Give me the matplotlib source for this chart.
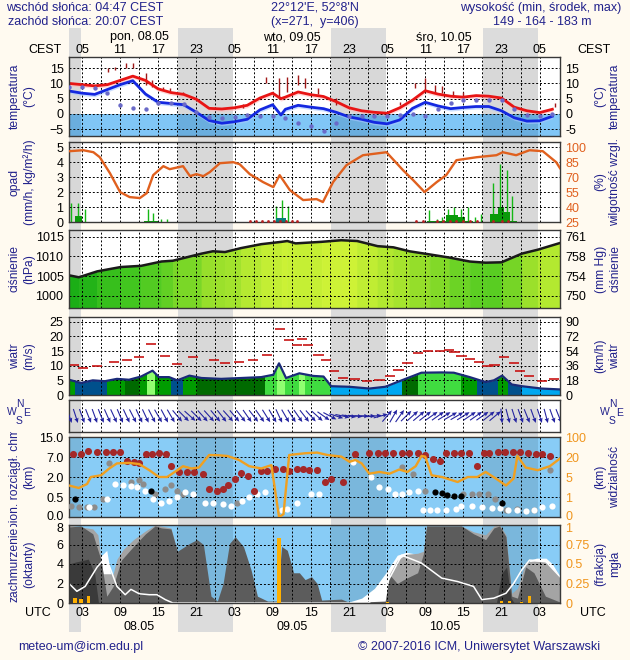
import matplotlib
matplotlib.use("Agg")
import matplotlib.pyplot as plt
import numpy as np
from matplotlib.colors import LinearSegmentedColormap
from matplotlib.patches import Rectangle
from matplotlib.transforms import Bbox, ScaledTranslation

plt.rcParams["font.family"] = ["Liberation Sans", "DejaVu Sans"]

W, H = 630, 660
X0, X1 = 69, 560            # plot column, pixels
T0, T1 = 0.96, 78.2         # hours since 08.05 00 UTC
BG = "#fffaf0"
NAVY = "#22228c"
ORANGE_RH = "#e0601e"
ORANGE_VIS = "#f0961e"

# ---- header / axis text -----------------------------------------------------
SUNRISE_UTC, SUNSET_UTC = 2.78, 18.12
HOUR_T = [3, 9, 15, 21, 27, 33, 39, 45, 51, 57, 63, 69, 75]
DAY_T = [12, 36, 60]
DAY_TOP = ["pon, 08.05", "wto, 09.05", "śro, 10.05"]
DAY_BOTTOM = ["08.05", "09.05", "10.05"]

# ---- temperature (°C) --------------------------------------------------------
TEMP_T = [1, 3, 5, 7, 9, 11, 13, 15, 17, 19, 21, 23, 25, 27, 29, 31, 33, 34.3,
          35, 37, 39, 41, 43, 45, 47, 49, 51, 53, 55, 57, 59, 61, 63, 65, 67,
          69, 71, 73, 75, 77]
TEMP_RED = [10.0, 9.6, 9.2, 9.6, 11.0, 12.4, 11.0, 8.2, 7.0, 6.4, 4.8, 1.8,
            1.6, 2.0, 2.8, 5.2, 6.8, 5.0, 5.5, 7.2, 6.3, 5.7, 4.0, 2.0, 1.0,
            0.5, 0.2, 2.0, 4.5, 7.6, 6.5, 5.8, 5.5, 6.0, 5.8, 5.2, 2.2, 1.0,
            0.4, 1.5]
TEMP_BLUE = [7.5, 6.8, 6.4, 8.0, 9.6, 10.9, 6.5, 3.8, 3.4, 3.0, 0.5, -2.2,
             -3.1, -2.6, -1.8, 1.3, 3.0, -0.4, 1.5, 2.8, 2.2, 1.7, 0.5, -1.0,
             -1.8, -2.8, -3.3, -2.0, 1.8, 3.8, 2.6, 1.7, 2.1, 2.4, 2.4, 1.0,
             -1.3, -2.4, -2.3, -0.8]
DEW_T = [1, 3, 5, 7, 9, 11, 13, 15, 17, 19, 21, 23, 25, 27, 29, 31, 33, 35,
         37, 39, 41, 43, 45, 47, 49, 51, 53, 55, 57, 59, 61, 63, 65, 67, 69,
         71, 73, 75, 77]
DEW = [8.7, 8.8, 8.6, 6.8, 3.0, 2.0, 1.5, 3.5, 3.5, 3.2, 0.5, -1.0, -1.5,
       -1.0, -0.5, -0.8, -0.7, -1.3, -3.1, -3.9, -5.7, -3.0, -0.7, -0.7, -0.7,
       -0.6, -0.4, 0.0, -0.8, 1.5, 3.5, 4.5, 4.5, 4.6, 4.4, 1.5, -0.5, -0.7,
       0.0]
SPREAD_T = [7.1, 8.2, 9.9, 11.0, 13.0, 14.0, 15.8, 16.8, 18.9, 28.4, 32.0,
            34.0, 35.2, 37.0, 38.1, 40.2, 43.0, 53.0, 55.4, 56.9, 58.5, 59.6,
            61.4, 63.0, 77.4]
SPREAD_LO = [13.9, 14.5, 15.0, 15.0, 9.5, 8.9, 7.8, 7.5, 6.4, 2.0, 10.0, 5.1,
             7.3, 9.5, 8.4, 6.4, 2.9, 2.9, 8.4, 7.5, 7.0, 7.0, 5.6, 5.6, 2.3]
SPREAD_HI = [15.0, 15.5, 16.8, 16.6, 13.3, 11.1, 8.9, 8.6, 7.3, 3.1, 12.2,
             11.7, 12.2, 12.8, 11.7, 8.4, 5.1, 4.0, 10.0, 11.7, 9.5, 9.2, 7.5,
             7.3, 3.6]
TEMP_TICKS = [-5, 0, 5, 10, 15]

# ---- precipitation (mm/h) and relative humidity (%) -------------------------
PRECIP_T = [1.2, 2.4, 3.5, 13.4, 14.2, 15.5, 16.3, 33.6, 34.5, 35.4, 57.6,
            58.8, 59.7, 60.6, 61.6, 62.7, 63.7, 64.8, 65.8, 67.7, 68.8, 69.8,
            70.7]
PRECIP_MAX = [1.24, 1.24, 0.9, 0.9, 0.6, 0.2, 0.2, 1.1, 1.45, 1.1, 0.8, 0.18,
              0.34, 0.9, 1.0, 0.85, 1.0, 0.34, 0.52, 2.64, 3.9, 3.5, 1.74]
BAR_START = [1.9, 12.8, 33.6, 57.3, 60.3, 62.1, 63.2, 67.2, 68.5, 69.4, 70.4]
BAR_END = [2.95, 15.0, 35.1, 60.3, 62.1, 63.2, 64.5, 68.5, 69.4, 70.4, 71.4]
BAR_MEAN = [0.38, 0.1, 0.27, 0.1, 0.45, 0.34, 0.1, 0.56, 1.0, 0.67, 0.08]
BAR_KIND = [0, 0, 1, 0, 0, 0, 0, 0, 0, 0, 0]     # 1 = mixed precipitation
SLEET_T = [29.4, 30.4, 31.3, 32.2, 33.2, 34.1, 35.1, 36.0, 36.8, 55.6, 56.7,
           58.8, 59.8, 60.9, 61.9, 63.0, 64.0, 65.1, 67.7, 69.0, 70.0]
RH_T = [0.96, 3.2, 4.8, 5.8, 7.4, 9.0, 10.5, 12.1, 13.2, 14.2, 15.8, 16.8,
        18.9, 20.0, 21.0, 22.1, 23.1, 24.7, 26.8, 27.8, 29.4, 31.5, 33.1,
        34.1, 35.7, 37.8, 39.9, 40.9, 42.5, 44.6, 47.2, 50.9, 53.5, 55.1,
        56.9, 58.8, 60.3, 61.9, 65.1, 68.2, 69.2, 71.3, 73.4, 75.5, 77.6, 78.2]
RH = [96, 97, 95, 90, 74, 55, 50, 49, 54, 72, 81, 78, 81, 71, 73, 71, 75, 84,
      85, 83, 73, 65, 60, 72, 57, 47, 48, 45, 65, 82, 92, 95, 77, 67, 55, 65,
      72, 87, 90, 92, 95, 92, 97, 96, 85, 79]
PRECIP_TICKS = [0, 1, 2, 3, 4, 5]
RH_TICKS = [25, 40, 55, 70, 85, 100]

# ---- pressure (hPa) ---------------------------------------------------------
PRES_T = [0.96, 2.5, 5.4, 9.1, 12.3, 15.5, 17.3, 21.8, 23.6, 25.5, 28.0, 31.2,
          34.4, 35.3, 36.6, 40.7, 43.8, 46.3, 49.5, 52.0, 54.5, 57.7, 60.8,
          64.0, 66.5, 69.0, 72.2, 74.7, 78.2]
PRES = [1005.2, 1004.7, 1006.2, 1007.3, 1007.6, 1008.7, 1008.9, 1010.7,
        1011.3, 1011.1, 1012.1, 1013.1, 1013.7, 1013.9, 1013.3, 1013.7,
        1014.1, 1013.9, 1012.6, 1012.3, 1011.3, 1010.5, 1009.7, 1008.7,
        1008.4, 1008.5, 1010.7, 1011.7, 1013.4]
PRES_TICKS = [1000, 1005, 1010, 1015]
HPA_TO_MMHG = 0.750062

# ---- wind (m/s) -------------------------------------------------------------
WIND_T = [0.96, 2.85, 4.7, 6.6, 8.5, 10.4, 12.3, 14.1, 15.1, 16.7, 18.0, 19.9,
          21.8, 24.9, 28.1, 31.2, 33.1, 34.0, 35.1, 37.2, 39.4, 41.0, 42.2,
          45.1, 48.2, 50.7, 53.3, 56.4, 59.6, 61.5, 64.0, 66.5, 67.8, 69.1,
          70.6, 72.2, 75.3, 78.2]
WIND = [5.2, 4.1, 5.0, 4.7, 5.5, 5.2, 6.3, 8.3, 6.1, 6.1, 5.0, 6.6, 5.8, 5.5,
        5.8, 6.1, 6.9, 10.8, 5.8, 7.4, 6.5, 6.3, 3.0, 2.8, 2.2, 2.8, 5.0, 7.6,
        7.7, 7.6, 6.1, 4.4, 5.0, 6.6, 3.6, 3.0, 2.2, 1.9]
WIND_BAND_EDGES = [0.96, 1.9, 6.9, 9.8, 12.0, 13.2, 14.5, 17.0, 18.9, 21.1,
                   31.8, 33.7, 35.0, 37.2, 38.1, 42.2, 53.3, 55.8, 62.7, 65.2,
                   68.4, 69.96, 72.2, 78.2]
WIND_BAND_CLASS = [2, 0, 2, 1, 2, 4, 2, 0, 2, 1, 3, 4, 3, 4, 3, 5, 1, 3, 2, 0,
                   2, 0, 5]
GUST_T = [1.7, 3.2, 5.4, 8.0, 10.1, 12.0, 13.9, 16.1, 18.0, 20.5, 23.8, 25.5,
          27.7, 29.9, 32.1, 34.1, 35.6, 36.8, 37.6, 38.6, 40.2, 41.4, 42.6,
          44.1, 46.0, 47.9, 49.8, 51.5, 52.8, 54.2, 55.8, 57.4, 59.3, 60.7,
          61.6, 62.7, 64.0, 65.4, 66.8, 67.9, 69.4, 70.9, 71.9, 73.3, 75.4,
          77.3]
GUST = [10.2, 9.1, 9.9, 11.3, 12.1, 13.0, 17.4, 13.2, 10.5, 12.9, 11.8, 10.8,
        11.3, 12.1, 13.8, 22.6, 18.7, 17.1, 19.0, 17.1, 13.8, 11.9, 8.3, 5.8,
        5.3, 4.7, 5.0, 6.4, 8.6, 10.8, 14.3, 15.1, 14.9, 15.3, 14.6, 13.4,
        12.3, 11.2, 9.9, 10.2, 13.0, 10.8, 8.3, 6.6, 4.7, 5.5]
WIND_TICKS = [0, 5, 10, 15, 20, 25]

# wind direction (deg, meteorological "from"), hourly 01..78 UTC
WIND_DIR_T = np.arange(1, 79)
WIND_DIR = [340, 342, 340, 338, 340, 338, 336, 335, 337, 335, 333, 335, 335,
            333, 330, 332, 330, 320, 315, 312, 315, 318, 318, 320, 322, 318,
            320, 322, 325, 322, 325, 328, 330, 335, 330, 328, 325, 322, 318,
            312, 305, 298, 288, 282, 278, 275, 272, 270, 265, 255, 220, 210,
            215, 225, 228, 230, 232, 235, 235, 238, 240, 240, 238, 236, 235,
            235, 232, 230, 355, 345, 342, 340, 338, 340, 342, 345, 340, 338]

# ---- cloud base (km) and visibility (km) ------------------------------------
CB_TICKS = [0.0, 0.5, 2.0, 7.0, 15.0]
VIS_TICKS = [0, 1, 5, 20, 100]
CB_RED_T = [1.6, 2.85, 3.98, 5.37, 6.75, 7.89, 9.02, 10.1, 11.2, 12.0, 13.06,
            14.06, 15.14, 16.2, 17.03, 18.3, 19.55, 20.7, 22.07, 23.0, 24.3,
            25.2, 26.04, 27.1, 28.05, 29.1, 30.07, 31.2, 32.15, 33.4, 34.67,
            35.6, 36.75, 37.8, 38.77, 40.03, 41.2, 42.2, 44.1, 46.0, 48.2,
            49.5, 50.7, 52.0, 53.3, 54.5, 55.8, 56.9, 58.2, 59.25, 60.3, 61.5,
            62.7, 63.85, 65.2, 66.2, 67.1, 68.4, 69.5, 70.8, 71.85, 73.1, 74.4,
            75.4, 76.6]
CB_RED = [8.2, 8.2, 9.5, 9.2, 9.2, 9.2, 9.2, 6.1, 5.8, 5.6, 8.2, 8.2, 8.5,
          8.2, 4.7, 3.3, 3.3, 3.3, 2.85, 1.11, 0.98, 1.11, 1.37, 1.88, 3.0,
          2.15, 0.98, 3.4, 3.4, 3.9, 3.9, 3.4, 3.9, 3.9, 3.7, 3.7, 1.62, 1.88,
          1.62, 8.2, 8.8, 8.8, 8.8, 8.8, 8.8, 8.8, 8.8, 7.8, 6.4, 6.0, 8.8,
          8.8, 8.8, 8.8, 4.7, 8.5, 8.8, 9.2, 9.2, 9.2, 9.2, 8.8, 8.2, 8.2, 7.4]
CB_WHITE_T = [4.1, 6.9, 8.2, 9.5, 10.7, 11.7, 12.9, 14.2, 15.5, 16.7, 18.0,
              19.2, 20.5, 22.4, 23.6, 25.2, 26.5, 28.1, 29.3, 30.6, 31.8, 34.4,
              35.3, 36.9, 39.1, 40.3, 45.7, 48.5, 49.8, 51.1, 52.3, 53.3, 54.5,
              55.8, 56.7, 57.7, 58.9, 60.2, 61.8, 62.7, 64.3, 65.9, 67.5, 68.7,
              70.0, 71.5, 72.8, 74.1, 75.3, 76.9]
CB_WHITE = [0.24, 0.45, 1.49, 1.37, 1.29, 1.24, 0.98, 0.45, 0.36, 0.41, 0.49,
            0.86, 0.73, 0.36, 0.36, 0.32, 0.28, 0.41, 0.49, 0.73, 0.86, 0.17,
            0.19, 0.36, 0.73, 0.73, 5.8, 2.0, 1.24, 1.11, 0.73, 0.73, 0.86,
            0.98, 0.17, 0.17, 0.17, 0.17, 0.19, 0.28, 0.28, 0.25, 0.22, 0.22,
            0.17, 0.17, 0.15, 0.17, 0.24, 0.28]
CB_GRAY_T = [1.3, 2.5, 3.8, 4.9, 6.3, 7.3, 10.7, 12.0, 12.6, 14.5, 16.1, 17.0,
             18.0, 18.9, 27.4, 53.3, 55.1, 57.0, 63.0, 64.3, 65.5, 66.8, 68.0,
             69.7, 71.5, 74.1, 76.6]
CB_GRAY = [0.28, 0.25, 0.25, 0.25, 0.45, 5.4, 1.62, 1.75, 1.49, 0.76, 1.11,
           1.37, 0.95, 0.73, 0.36, 4.5, 2.85, 0.98, 0.71, 0.71, 0.71, 0.71,
           0.45, 0.17, 0.19, 0.17, 3.7]
CB_BLACK_T = [1.9, 13.9, 58.6, 59.6, 60.5, 61.5, 62.7, 69.0]
CB_BLACK = [0.45, 0.98, 0.86, 0.8, 0.68, 0.6, 0.6, 0.36]
VIS_T = [0.96, 2.5, 3.8, 4.4, 6.0, 7.3, 8.5, 10.4, 12.0, 13.6, 15.1, 16.4,
         18.0, 18.9, 20.2, 21.4, 23.0, 24.6, 25.9, 27.7, 29.3, 31.2, 32.8,
         34.0, 34.7, 35.6, 38.1, 40.0, 41.6, 43.8, 45.1, 46.0, 47.0, 48.2,
         49.8, 51.4, 52.9, 54.2, 55.5, 56.4, 57.0, 58.0, 59.6, 62.1, 63.7,
         65.2, 66.5, 68.1, 69.7, 70.9, 71.5, 72.8, 74.7, 76.6, 78.2]
VIS = [3.3, 2.8, 3.6, 5.0, 6.3, 11.4, 15.2, 15.6, 14.7, 10.1, 5.0, 5.0, 10.1,
       13.1, 11.4, 12.1, 28, 26.7, 24, 17.8, 13.1, 11.4, 13.9, 0, 0.14, 28, 35,
       37.6, 28, 21.6, 16.4, 17.8, 15.2, 7.5, 8.8, 7.5, 10.6, 8.8, 13.1, 24,
       21.6, 6.3, 5.0, 4.0, 5.0, 5.0, 8.8, 4.7, 3.3, 4.7, 24, 12.1, 10.1, 13.1,
       18.9]

# ---- cloud cover (octants) and fog (fraction) -------------------------------
CC_WHITE_T = [4.5, 5.5, 6.9, 7.5, 8.0, 44.5, 47.0, 49.0, 50.7, 52.6, 54.0,
              55.8, 56.7, 57.0, 71.6, 72.8, 73.5, 74.5, 76.0, 77.0, 78.2]
CC_WHITE = [0, 4.5, 5.4, 3.0, 0, 0, 0.5, 1.5, 3.0, 4.9, 5.2, 5.0, 5.2, 0, 0,
            3.8, 4.4, 4.6, 4.6, 4.0, 2.7]
CC_LIGHT_T = [0.96, 4.7, 5.5, 6.3, 7.9, 8.5, 9.5, 11.1, 13.0, 14.5, 17.0,
              18.0, 18.1, 50.9, 51.4, 52.6, 54.0, 55.8, 56.7, 57.2, 62.7,
              64.6, 66.5, 67.8, 68.7, 69.7, 70.6, 71.5, 72.8, 74.1, 76.0, 77.0,
              78.2]
CC_LIGHT = [8.0, 7.6, 7.0, 3.0, 3.0, 4.5, 5.5, 6.5, 7.4, 8.0, 7.7, 5.3, 0.0,
            0.0, 3.0, 4.4, 5.0, 5.1, 5.3, 7.9, 7.9, 7.3, 7.0, 7.9, 8.0, 7.0,
            1.0, 1.5, 4.2, 4.3, 4.2, 3.6, 2.7]
CC_MID_T = [0.96, 2.85, 4.7, 6.0, 6.9, 7.9, 9.2, 11.1, 13.0, 14.5, 15.5, 17.0,
            18.0, 19.9, 21.1, 22.1, 23.3, 24.3, 25.2, 26.2, 27.1, 28.4, 29.6,
            30.6, 32.2, 33.7, 34.4, 35.3, 36.3, 37.2, 38.1, 39.1, 40.0, 40.7,
            43.8, 45.1, 50.7, 51.4, 52.6, 53.9, 55.8, 56.7, 57.2, 62.7, 64.6,
            66.5, 67.8, 68.7, 69.7, 70.6, 71.5, 72.8, 74.1, 75.9, 78.2]
CC_MID = [7.8, 7.9, 7.1, 4.4, 0.7, 1.7, 4.4, 5.8, 7.1, 7.9, 7.7, 7.6, 5.3,
          6.1, 6.5, 6.0, 0.7, 0.2, 2.0, 6.1, 6.8, 5.8, 3.4, 0.7, 0.2, 0.2, 5.8,
          5.4, 3.1, 3.1, 2.4, 2.7, 2.0, 0.3, 0.4, 0.05, 0.2, 2.9, 2.0, 2.5,
          3.1, 5.0, 7.9, 7.9, 7.1, 6.5, 7.7, 7.9, 6.8, 0.7, 0.5, 3.7, 3.1, 0.7,
          0.1]
CC_DARK_T = [0.96, 2.0, 4.0, 5.0, 5.6, 68.2, 69.0, 69.8, 70.5, 71.0]
CC_DARK = [4.0, 4.2, 4.5, 3.0, 0.0, 0.0, 3.0, 3.7, 0.5, 0.0]
CC_LINE_T = [0.96, 2.2, 3.5, 5.4, 6.8, 8.5, 9.8, 10.7, 12.0, 13.6, 14.8, 16.1,
             17.3, 48.0, 48.9, 50.7, 53.3, 56.4, 59.6, 62.1, 64.6, 65.9, 67.8,
             69.7, 70.9, 72.2, 73.4, 75.9, 78.2]
CC_LINE = [2.0, 1.2, 1.7, 3.7, 4.7, 1.7, 0.85, 1.4, 0.95, 0.85, 0.85, 0.35,
           0.0, 0.0, 0.35, 1.7, 4.9, 4.1, 2.55, 2.2, 1.7, 0.35, 0.5, 1.0, 2.0,
           3.4, 4.4, 4.3, 2.7]
FOG_T = [1.9, 2.85, 4.0, 34.0, 51.1, 69.0, 70.2, 72.2, 73.4]
FOG = [0.06, 0.05, 0.09, 0.83, 0.01, 0.02, 0.02, 0.01, 0.09]
CC_TICKS = [0, 2, 4, 6, 8]
FOG_TICKS = [0, 0.25, 0.5, 0.75, 1]

WIND_COLORS = ["#00508c", "#006a00", "#009c00", "#40dc40", "#90ff70",
               "#00a8f0"]

NIGHTS = [(T0, SUNRISE_UTC)] + [(SUNSET_UTC + 24 * d, SUNRISE_UTC + 24 * (d + 1))
                                for d in range(3)]

fig = plt.figure(figsize=(W / 100, H / 100), dpi=100, facecolor=BG)


def ftext(x, y, s, **kw):
    kw.setdefault("fontsize", 9)
    kw.setdefault("va", "center")
    return fig.text(x / W, 1 - y / H, s, **kw)


# night bands behind the whole column (header and footer included)
bg = fig.add_axes([X0 / W, 1 - 632 / H, (X1 - X0) / W, (632 - 28) / H])
bg.set_xlim(T0, T1)
bg.axis("off")
for a, b in NIGHTS:
    bg.axvspan(a, b, color="#dcdcdc", lw=0)


def panel(top, bot, face="white", night="#d8d8d8", night_alpha=1.0):
    ax = fig.add_axes([X0 / W, 1 - bot / H, (X1 - X0) / W, (bot - top) / H],
                      facecolor=face)
    ax.set_xlim(T0, T1)
    for a, b in NIGHTS:
        ax.axvspan(a, b, color=night, alpha=night_alpha, lw=0, zorder=0.5)
    ax.set_xticks(np.arange(3, 78, 3))
    ax.tick_params(axis="x", length=0, labelbottom=False)
    ax.tick_params(axis="y", length=0, labelsize=9, pad=4)
    ax.set_axisbelow("line")
    ax.grid(True, color="k", ls=(0, (2, 2)), lw=0.7)
    for s in ax.spines.values():
        s.set_color("#383838")
        s.set_linewidth(1.0)
    return ax


def right_axis(ax, ticks, labels, color="black", ylim=None):
    ax2 = ax.twinx()
    ax2.set_ylim(ylim if ylim is not None else ax.get_ylim())
    ax2.set_yticks(ticks)
    ax2.set_yticklabels(labels)
    ax2.tick_params(axis="y", length=0, labelsize=9, pad=4, labelcolor=color)
    for s in ax2.spines.values():
        s.set_visible(False)
    return ax2


def nudge(ax, index, dy_px, side=1):
    # shift one tick label vertically so neighbouring panels do not collide
    tick = ax.yaxis.get_major_ticks()[index]
    lbl = tick.label1 if side == 1 else tick.label2
    lbl.set_transform(lbl.get_transform()
                      + ScaledTranslation(0, dy_px / 100, fig.dpi_scale_trans))


def side_labels(top, bot, left, right, clip=None):
    yc = (top + bot) / 2
    for x, s in ((22, left), (608, right)):
        if not s:
            continue
        t = ftext(x, yc, s, rotation=90, ha="center", color=NAVY,
                  fontsize=8.7, linespacing=1.3, multialignment="center")
        if clip and x < 300:
            t.set_clip_box(Bbox.from_extents(0, H - clip[1], W, H - clip[0]))
            t.set_clip_on(True)


# ---- 1: temperature ---------------------------------------------------------
ax = panel(57, 136)
ax.set_ylim(-7.3, 18.7)
ax.axhspan(-10, 0, color="#80c6f6", lw=0, zorder=0.6)
for a, b in NIGHTS:
    ax.fill_between([a, b], -10, 0, color="#6aaede", lw=0, zorder=0.7)
ax.fill_between(TEMP_T, np.array(TEMP_RED) - 0.8, TEMP_RED, color="#ffb4b4",
                alpha=0.5, lw=0, zorder=0.8)
ax.fill_between(TEMP_T, np.array(TEMP_BLUE) - 0.8, TEMP_BLUE, color="#a8c8ff",
                alpha=0.6, lw=0, zorder=0.8)
ax.vlines(SPREAD_T, SPREAD_LO, SPREAD_HI, color="#a01818", lw=1, zorder=2)
ax.plot(TEMP_T, TEMP_RED, color="#e81414", lw=2, zorder=2.2)
ax.plot(TEMP_T, TEMP_BLUE, color="#1428e0", lw=2, zorder=2.2)
ax.scatter(DEW_T, DEW, s=10, color="#6a6ac8", lw=0, zorder=3)
ax.set_yticks(TEMP_TICKS)
right_axis(ax, TEMP_TICKS, [str(v) for v in TEMP_TICKS])
side_labels(57, 136, "temperatura\n(°C)", "(°C)\ntemperatura")
top_ax = ax

# ---- 2: precipitation / humidity --------------------------------------------
ax = panel(142, 222)
ax.set_ylim(0, 5.35)
ax.vlines(PRECIP_T, 0, PRECIP_MAX, color="#14b814", lw=1, zorder=1.2)
ax.bar(BAR_START, BAR_MEAN, width=np.array(BAR_END) - np.array(BAR_START),
       align="edge", color=["#0a9a0a" if k == 0 else "#08807c" for k in BAR_KIND],
       lw=0, zorder=1.3)
ax.scatter(SLEET_T, np.full(len(SLEET_T), 0.06), marker="o", s=4,
           color="#b82020", lw=0, zorder=3, clip_on=False)
ax.set_yticks(PRECIP_TICKS)
ax2 = right_axis(ax, RH_TICKS, [str(v) for v in RH_TICKS], ORANGE_RH,
                 ylim=(25, 25 + 5.35 * 15))
ax2.plot(RH_T, RH, color=ORANGE_RH, lw=1.7)
side_labels(142, 222, "opad\n(mm/h, kg/m²/h)", "(%)\nwilgotność wzgl.")

# ---- 3: pressure ------------------------------------------------------------
ax = panel(230, 308)
ax.set_ylim(996.9, 1016.7)
cmap = LinearSegmentedColormap.from_list(
    "pres", ["#14aa14", "#46c820", "#94de2a", "#cef236"])
norm = plt.Normalize(1004.5, 1014.0)
for i in range(len(PRES_T) - 1):
    c = cmap(norm(0.5 * (PRES[i] + PRES[i + 1])))
    ax.fill_between(PRES_T[i:i + 2], 990, PRES[i:i + 2], color=c, ec=c,
                    lw=0.5, zorder=1)
ax.plot(PRES_T, PRES, color="#1a1a1a", lw=1.8, zorder=2)
ax.set_yticks(PRES_TICKS)
right_axis(ax, PRES_TICKS, [f"{round(p * HPA_TO_MMHG)}" for p in PRES_TICKS])
side_labels(230, 308, "ciśnienie\n(hPa)", "(mm Hg)\nciśnienie")

# ---- 4: wind ----------------------------------------------------------------
ax = panel(317, 395)
ax.set_ylim(0, 26.6)
for a, b, k in zip(WIND_BAND_EDGES[:-1], WIND_BAND_EDGES[1:], WIND_BAND_CLASS):
    pc = ax.fill_between(WIND_T, 0, WIND, color=WIND_COLORS[k], lw=0, zorder=1)
    pc.set_clip_path(Rectangle((a, -1), b - a, 40, transform=ax.transData))
ax.plot(WIND_T, WIND, color="#1a2a78", lw=1.6, zorder=2)
ax.hlines(GUST, np.array(GUST_T) - 0.8, np.array(GUST_T) + 0.8,
          color="#c81414", lw=1.2, zorder=2)
ax.set_yticks(WIND_TICKS)
right_axis(ax, WIND_TICKS, [f"{v * 3.6:.0f}" for v in WIND_TICKS])
side_labels(317, 395, "wiatr\n(m/s)", "(km/h)\nwiatr")

# ---- 5: wind direction ------------------------------------------------------
ax = panel(400, 432)
ax.set_ylim(-1, 1)
ax.set_yticks([])
wd = np.deg2rad(WIND_DIR)
ax.quiver(WIND_DIR_T, np.zeros(len(WIND_DIR_T)), -np.sin(wd), -np.cos(wd),
          angles="uv", pivot="middle", scale_units="inches", scale=6.8,
          units="dots", width=1.1, headwidth=4, headlength=4.5,
          headaxislength=4, color="#2424a0", zorder=3)
for cx in (19, 612):
    for dx, dy, s in ((1, -8, "N"), (0, 9, "S"), (-7, 0, "W"), (8, 1, "E")):
        ftext(cx + dx, 412 + dy, s, ha="center", color=NAVY, fontsize=7.5)

# ---- 6: cloud base / visibility --------------------------------------------
ax = panel(437, 517, face="#88ccf6", night="k", night_alpha=0.1)
lv = np.arange(len(CB_TICKS))
ax.set_yscale("function", functions=(lambda v: np.interp(v, CB_TICKS, lv),
                                     lambda l: np.interp(l, lv, CB_TICKS)))
ax.set_ylim(0, 15)
ax.set_yticks(CB_TICKS)
ax.set_yticklabels([f"{v:.1f}" for v in CB_TICKS])
ax.yaxis.set_minor_locator(matplotlib.ticker.NullLocator())
ax.scatter(CB_GRAY_T, CB_GRAY, s=20, color="#8c8c8c", lw=0, zorder=3)
ax.scatter(CB_WHITE_T, CB_WHITE, s=20, color="white", lw=0, zorder=3)
ax.scatter(CB_BLACK_T, CB_BLACK, s=20, color="black", lw=0, zorder=3)
ax.scatter(CB_RED_T, CB_RED, s=26, color="#a42828", lw=0, zorder=3)
ax2 = ax.twinx()
ax2.set_yscale("function", functions=(lambda v: np.interp(v, VIS_TICKS, lv),
                                      lambda l: np.interp(l, lv, VIS_TICKS)))
ax2.set_ylim(0, 100)
ax2.set_yticks(VIS_TICKS)
ax2.set_yticklabels([str(v) for v in VIS_TICKS])
ax2.yaxis.set_minor_locator(matplotlib.ticker.NullLocator())
ax2.tick_params(axis="y", length=0, labelsize=9, pad=4, labelcolor=ORANGE_VIS)
for s in ax2.spines.values():
    s.set_visible(False)
ax2.plot(VIS_T, VIS, color="#f0a020", lw=1.7)
nudge(ax, 0, 2)
nudge(ax2, 0, 2, side=2)
side_labels(437, 517, "pion. rozciągł. chm.\n(km)", "(km)\nwidzialność",
            clip=(432, 527))

# ---- 7: cloud cover / fog ---------------------------------------------------
ax = panel(525, 603, face="#88ccf6", night="k", night_alpha=0.1)
ax.set_ylim(0, 8)
ax.fill_between(CC_WHITE_T, 0, CC_WHITE, color="white", lw=0, zorder=1)
ax.fill_between(CC_LIGHT_T, 0, CC_LIGHT, color="#a4a4a4", lw=0, zorder=1)
ax.fill_between(CC_MID_T, 0, CC_MID, color="#5c5c5c", lw=0, zorder=1)
ax.fill_between(CC_DARK_T, 0, CC_DARK, color="#3a3a3a", lw=0, zorder=1)
ax.plot(CC_LINE_T, CC_LINE, color="white", lw=1.1, zorder=2)
ax.set_yticks(CC_TICKS)
ax2 = right_axis(ax, FOG_TICKS, [f"{v:g}" for v in FOG_TICKS], ORANGE_VIS,
                 ylim=(0, 1))
ax2.bar(FOG_T, FOG, width=0.5, color="#ffb000", lw=0)
nudge(ax, len(CC_TICKS) - 1, -3)
nudge(ax2, len(FOG_TICKS) - 1, -3, side=2)
side_labels(525, 603, "zachmurzenie\n(oktanty)", "(frakcja)\nmgła")
bottom_ax = ax

# ---- time labels ------------------------------------------------------------
for t in HOUR_T:
    top_ax.annotate(f"{(t + 2) % 24:02d}", xy=(t, H - 50),
                    xycoords=("data", "figure pixels"), ha="center",
                    va="center", fontsize=9)
    bottom_ax.annotate(f"{t % 24:02d}", xy=(t, H - 613),
                       xycoords=("data", "figure pixels"), ha="center",
                       va="center", fontsize=9)
for t, s_top, s_bot in zip(DAY_T, DAY_TOP, DAY_BOTTOM):
    top_ax.annotate(s_top, xy=(t, H - 37), xycoords=("data", "figure pixels"),
                    ha="center", va="center", fontsize=9)
    bottom_ax.annotate(s_bot, xy=(t, H - 627),
                       xycoords=("data", "figure pixels"), ha="center",
                       va="center", fontsize=9)
ftext(45, 50, "CEST", ha="center")
ftext(594, 50, "CEST", ha="center")
ftext(38, 613, "UTC", ha="center")
ftext(593, 613, "UTC", ha="center")

# ---- header / footer --------------------------------------------------------
ftext(6, 8, "wschód słońca: 04:47 CEST", color=NAVY)
ftext(8, 22, "zachód słońca: 20:07 CEST", color=NAVY)
ftext(315, 8, "22°12'E, 52°8'N", ha="center", color=NAVY)
ftext(315, 22, "(x=271,  y=406)", ha="center", color=NAVY)
ftext(621, 8, "wysokość (min, środek, max)", ha="right", color=NAVY)
ftext(542, 22, "149 - 164 - 183 m", ha="center", color=NAVY)
ftext(18, 647, "meteo-um@icm.edu.pl", color=NAVY)
ftext(600, 647, "© 2007-2016 ICM, Uniwersytet Warszawski", ha="right",
      color=NAVY)

fig.savefig("out.png", dpi=100, facecolor=BG)
